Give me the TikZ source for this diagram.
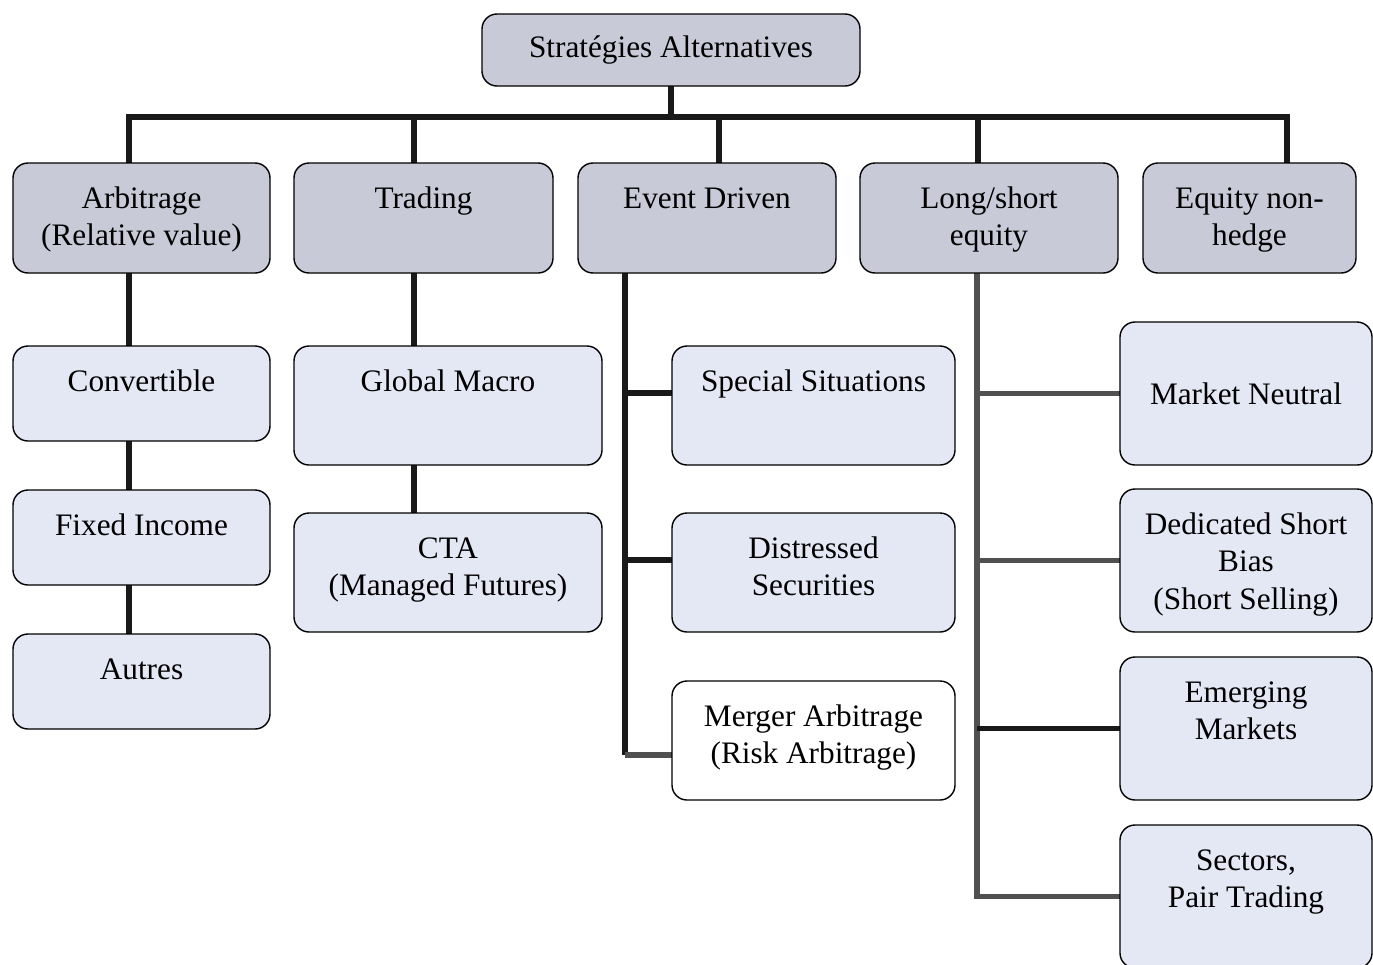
\documentclass[tikz,border=0pt]{standalone}
\usepackage{fontspec}
\setmainfont{Liberation Serif}
\usetikzlibrary{backgrounds}

\definecolor{upfill}{HTML}{C9CAD8}
\definecolor{lowfill}{HTML}{E4E7F4}
\definecolor{lsgrey}{HTML}{505050}

% one pixel of the page
\newdimen\pxu \pxu=0.02cm
% box text: [top gap]{width}{height}{text}
\newcommand{\cell}[4][11pt]{\parbox[c][\dimexpr#3\pxu\relax][t]{\dimexpr#2\pxu\relax}{\centering\vspace*{#1}\strut#4}}

\tikzset{
  box/.style={draw, rounded corners=0.3cm, line width=0.8pt, inner sep=0pt, outer sep=0pt},
  upper/.style={box, fill=upfill},
  lower/.style={box, fill=lowfill},
  blank/.style={box, fill=white},
  wire/.style={line width=3.2pt, black!90},
  lswire/.style={line width=3.2pt, lsgrey},
}

\begin{document}
\begin{tikzpicture}[x=0.02cm, y=-0.02cm, font=\fontsize{17.8}{21.3}\selectfont]
  \useasboundingbox (0,0) rectangle (1373,964);

  \node[upper] (root) at (671,50) {\cell[10pt]{378}{72}{Stratégies Alternatives}};
	\coordinate (bus) at (671,117);

  % first level
  \node[upper] (arb) at (141.5,218) {\cell{257}{110}{Arbitrage\\(Relative value)}};
  \node[upper] (trad) at (423.5,218) {\cell{259}{110}{Trading}};
  \node[upper] (event) at (707,218) {\cell{258}{110}{Event Driven}};
  \node[upper] (lsq) at (989,218) {\cell{258}{110}{Long/short\\equity}};
  \node[upper] (nonh) at (1249.5,218) {\cell{213}{110}{Equity non-\\hedge}};

  % arbitrage
  \node[lower] (conv) at (141.5,393.5) {\cell{257}{95}{Convertible}};
  \node[lower] (fixed) at (141.5,537.5) {\cell{257}{95}{Fixed Income}};
  \node[lower] (autres) at (141.5,681.5) {\cell{257}{95}{Autres}};

  % trading
  \node[lower] (gmacro) at (448,405.5) {\cell{308}{119}{Global Macro}};
  \node[lower] (cta) at (448,572.5) {\cell{308}{119}{CTA\\(Managed Futures)}};

  % event driven
  \node[lower] (special) at (813.5,405.5) {\cell{283}{119}{Special Situations}};
  \node[lower] (distr) at (813.5,572.5) {\cell{283}{119}{Distressed\\Securities}};
  \node[blank] (merger) at (813.5,740.5) {\cell{283}{119}{Merger Arbitrage\\(Risk Arbitrage)}};

  % long/short
  \node[lower] (mneut) at (1246,393.5) {\cell[32pt]{252}{143}{Market Neutral}};
  \node[lower] (dsb) at (1246,560.5) {\cell{252}{143}{Dedicated Short\\Bias\\(Short Selling)}};
  \node[lower] (emerg) at (1246,728.5) {\cell{252}{143}{Emerging\\Markets}};
  \node[lower] (sect) at (1246,896.5) {\cell{252}{143}{Sectors,\\Pair Trading}};

  \begin{scope}[on background layer]
    \draw[wire] (root.south) -- (bus);
    \draw[wire] ([xshift=-0.25cm]arb.north) |- (bus) -| ([xshift=0.75cm]nonh.north);
    \foreach \n/\s in {trad/-0.19cm, event/0.24cm, lsq/-0.22cm}
      \draw[wire] ([xshift=\s]\n.north) -- ([xshift=\s]\n.north |- bus);

    \draw[wire] ([xshift=-0.25cm]arb.south) -- ([xshift=-0.25cm]arb.south |- autres.north);
    \draw[wire] ([xshift=-0.19cm]trad.south) -- ([xshift=-0.19cm]trad.south |- cta.north);

    \coordinate (evtop) at ([xshift=-1.64cm]event.south);
    \coordinate (mgjoin) at ([yshift=-0.29cm]merger.west);
    \draw[wire] (evtop) -- (evtop |- mgjoin);
    \draw[lswire] (evtop |- mgjoin) -- (mgjoin);
    \foreach \n in {special, distr}
      \draw[wire] ([yshift=0.25cm]\n.west) -| (evtop);

    \coordinate (lstop) at ([xshift=-0.24cm]lsq.south);
    \draw[lswire] (lstop) |- (sect.west);
    \foreach \n in {mneut, dsb}
      \draw[lswire] (\n.west) -- (\n.west -| lstop);
    \draw[wire] (emerg.west) -- (emerg.west -| lstop);
  \end{scope}
\end{tikzpicture}
\end{document}
